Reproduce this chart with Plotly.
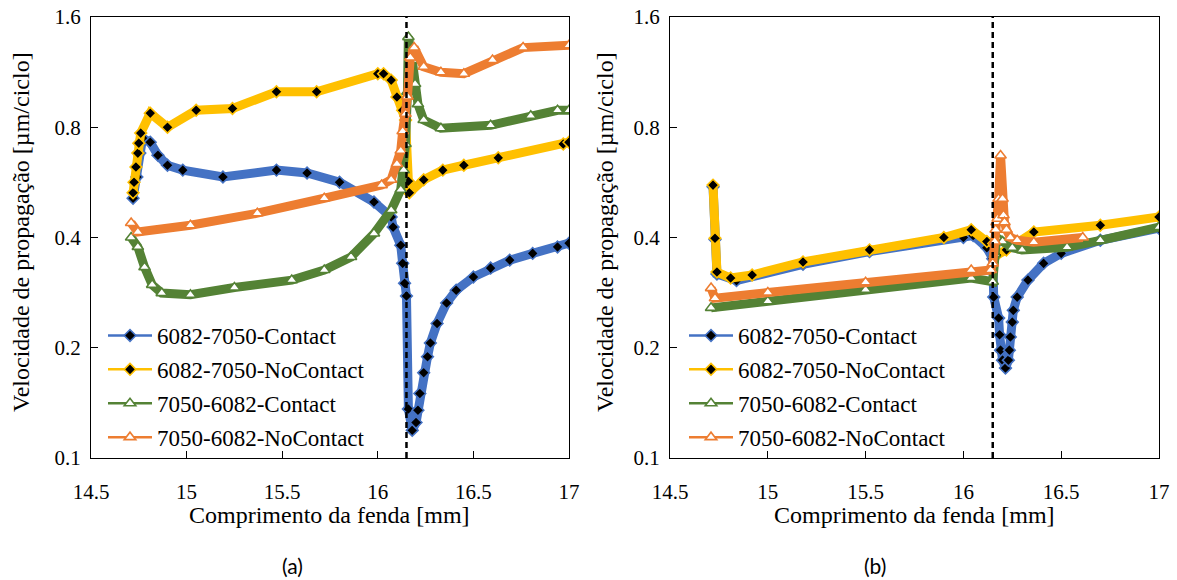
import math
import plotly.graph_objects as go

# ---------------- data ----------------
# (a) left panel
a_c1_x = [14.72, 14.74, 14.755, 14.77, 14.81, 14.85, 14.90, 14.98, 15.19, 15.47, 15.63, 15.80, 15.98,
          16.07, 16.08, 16.12, 16.13, 16.14, 16.15, 16.16, 16.18, 16.20, 16.21, 16.22, 16.24, 16.26,
          16.275, 16.31, 16.36, 16.41, 16.50, 16.59, 16.69, 16.81, 16.94, 17.0]
a_c1_y = [0.512, 0.585, 0.68, 0.747, 0.728, 0.671, 0.63, 0.611, 0.585, 0.611, 0.60, 0.566, 0.50,
          0.455, 0.427, 0.381, 0.34, 0.30, 0.277, 0.136, 0.119, 0.125, 0.135, 0.150, 0.171, 0.189,
          0.206, 0.233, 0.265, 0.287, 0.312, 0.33, 0.347, 0.362, 0.377, 0.386]

a_n1_x = [14.72, 14.725, 14.735, 14.745, 14.75, 14.76, 14.81, 14.90, 15.05, 15.24, 15.47, 15.68, 16.00,
          16.03, 16.07, 16.10, 16.13, 16.145, 16.16, 16.165, 16.24, 16.34, 16.45, 16.63, 16.97, 17.0]
a_n1_y = [0.53, 0.566, 0.623, 0.68, 0.724, 0.771, 0.874, 0.80, 0.89, 0.90, 1.0, 1.0, 1.12,
          1.12, 1.076, 0.967, 0.89, 0.837, 0.57, 0.53, 0.575, 0.611, 0.63, 0.66, 0.72, 0.728]

a_c2_x = [14.71, 14.745, 14.78, 14.82, 14.87, 15.02, 15.25, 15.55, 15.72, 15.86, 15.98, 16.07, 16.12,
          16.135, 16.145, 16.155, 16.16, 16.18, 16.195, 16.21, 16.24, 16.33, 16.59, 16.80, 16.94, 17.0]
a_c2_y = [0.40, 0.377, 0.332, 0.297, 0.282, 0.279, 0.292, 0.306, 0.326, 0.354, 0.41, 0.475, 0.54,
          0.611, 0.72, 1.0, 1.41, 1.22, 1.05, 0.925, 0.837, 0.795, 0.81, 0.86, 0.89, 0.89]

a_n2_x = [14.71, 14.745, 15.02, 15.37, 15.72, 16.02, 16.07, 16.10, 16.12, 16.13, 16.145, 16.155,
          16.17, 16.19, 16.24, 16.33, 16.45, 16.60, 16.76, 17.0]
a_n2_y = [0.438, 0.414, 0.432, 0.466, 0.512, 0.556, 0.575, 0.635, 0.69, 0.78, 0.87, 0.97,
          1.24, 1.32, 1.17, 1.13, 1.12, 1.22, 1.32, 1.34]

# (b) right panel
b_c1_x = [14.72, 14.73, 14.74, 14.84, 15.18, 15.52, 16.00, 16.05, 16.12, 16.15, 16.155, 16.18, 16.185,
          16.19, 16.20, 16.215, 16.23, 16.235, 16.24, 16.25, 16.255, 16.275, 16.33, 16.41, 16.50,
          16.70, 17.0]
b_c1_y = [0.55, 0.395, 0.318, 0.305, 0.338, 0.366, 0.40, 0.405, 0.375, 0.35, 0.275, 0.241, 0.217,
          0.197, 0.185, 0.176, 0.185, 0.197, 0.214, 0.235, 0.253, 0.275, 0.306, 0.34, 0.362,
          0.393, 0.424]

b_n1_x = [14.72, 14.73, 14.74, 14.81, 14.92, 15.18, 15.52, 15.90, 16.04, 16.12, 16.155, 16.17,
          16.22, 16.36, 16.70, 17.0]
b_n1_y = [0.556, 0.398, 0.322, 0.31, 0.316, 0.343, 0.37, 0.40, 0.42, 0.39, 0.385, 0.358,
          0.37, 0.414, 0.432, 0.455]

b_c2_x = [14.71, 15.0, 15.5, 16.04, 16.15, 16.16, 16.17, 16.20, 16.25, 16.30, 16.53, 16.70, 17.0]
b_c2_y = [0.257, 0.268, 0.288, 0.31, 0.303, 0.36, 0.40, 0.39, 0.375, 0.37, 0.376, 0.393, 0.427]

b_n2_x = [14.71, 14.73, 15.0, 15.5, 16.04, 16.14, 16.15, 16.16, 16.165, 16.17, 16.175, 16.18, 16.19,
          16.20, 16.205, 16.21, 16.22, 16.24, 16.275, 16.36, 16.61]
b_n2_y = [0.291, 0.273, 0.283, 0.302, 0.326, 0.326, 0.34, 0.39, 0.42, 0.44, 0.45, 0.51, 0.67,
          0.51, 0.46, 0.44, 0.42, 0.40, 0.393, 0.388, 0.40]

series_names = ["6082-7050-Contact", "6082-7050-NoContact", "7050-6082-Contact", "7050-6082-NoContact"]
series_colors = ["#4472C4", "#FFC000", "#548235", "#ED7D31"]
interface_x = 16.15

x_tickvals = [14.5, 15, 15.5, 16, 16.5, 17]
x_ticktext = ["14.5", "15", "15.5", "16", "16.5", "17"]
y_tickvals = [0.1, 0.2, 0.4, 0.8, 1.6]
y_ticktext = ["0.1", "0.2", "0.4", "0.8", "1.6"]

# ---------------- figure ----------------
W, H = 1177, 580
SERIF = "Liberation Serif"

def marker_for(i):
    if i < 2:
        return dict(symbol="diamond", size=9, color="black",
                    line=dict(color=series_colors[i], width=1.6))
    return dict(symbol="triangle-up", size=10, color="white",
                line=dict(color=series_colors[i], width=1.6))

def px_x(p):
    return p / W

def px_y(p):
    return 1 - p / H

fig = go.Figure()

panels = [
    ("x", "y", "legend", [(a_c1_x, a_c1_y), (a_n1_x, a_n1_y), (a_c2_x, a_c2_y), (a_n2_x, a_n2_y)]),
    ("x2", "y2", "legend2", [(b_c1_x, b_c1_y), (b_n1_x, b_n1_y), (b_c2_x, b_c2_y), (b_n2_x, b_n2_y)]),
]

for xa, ya, lg, data in panels:
    for i, (xs, ys) in enumerate(data):
        fig.add_trace(go.Scatter(
            x=xs, y=ys, xaxis=xa, yaxis=ya, mode="lines+markers",
            line=dict(color=series_colors[i], width=9),
            marker=marker_for(i), showlegend=False, hoverinfo="skip",
            name=series_names[i]))
    # legend entries (thin line + marker, like the reference legend keys)
    for i in range(4):
        fig.add_trace(go.Scatter(
            x=[None], y=[None], xaxis=xa, yaxis=ya, mode="lines+markers",
            name=series_names[i], legend=lg, legendgroup=f"{lg}{i}",
            line=dict(color=series_colors[i], width=2.5),
            marker=marker_for(i)))

axis_common = dict(showline=True, linecolor="black", linewidth=1.3, mirror=True,
                   ticks="inside", ticklen=7, tickcolor="black", tickwidth=1.3,
                   showgrid=False, zeroline=False,
                   tickfont=dict(family=SERIF, size=21, color="black"))

xdom1 = [px_x(91), px_x(569)]
xdom2 = [px_x(670), px_x(1159)]
ydom = [px_y(458), px_y(17)]

legend_common = dict(xanchor="left", yanchor="top", bgcolor="rgba(0,0,0,0)",
                     traceorder="grouped", tracegroupgap=1, itemwidth=44,
                     font=dict(family=SERIF, size=23, color="black"))

fig.update_layout(
    template="none",
    width=W, height=H, margin=dict(l=0, r=0, t=0, b=0),
    paper_bgcolor="white", plot_bgcolor="white",
    font=dict(family=SERIF, color="black"),
    xaxis=dict(domain=xdom1, range=[14.5, 17], tickvals=x_tickvals, ticktext=x_ticktext,
               anchor="y", ticklabelstandoff=15, **axis_common),
    yaxis=dict(domain=ydom, type="log", range=[-1, math.log10(1.6)], tickvals=y_tickvals,
               ticktext=y_ticktext, anchor="x", ticklabelstandoff=5, **axis_common),
    xaxis2=dict(domain=xdom2, range=[14.5, 17], tickvals=x_tickvals, ticktext=x_ticktext,
                anchor="y2", ticklabelstandoff=15, **axis_common),
    yaxis2=dict(domain=ydom, type="log", range=[-1, math.log10(1.6)], tickvals=y_tickvals,
                ticktext=y_ticktext, anchor="x2", ticklabelstandoff=5, **axis_common),
    legend=dict(x=px_x(103), y=px_y(314), **legend_common),
    legend2=dict(x=px_x(684), y=px_y(314), **legend_common),
    showlegend=True,
)

for xr in ("x", "x2"):
    fig.add_shape(type="line", xref=xr, yref=f"{'y' if xr == 'x' else 'y2'} domain",
                  x0=interface_x, x1=interface_x, y0=0, y1=1,
                  line=dict(color="black", width=2.5, dash="6px,4px"), layer="above")

ytitle = "Velocidade de propagação [µm/ciclo]"
xtitle = "Comprimento da fenda [mm]"
annots = [
    dict(x=px_x(21), y=px_y(232), text=ytitle, textangle=-90),
    dict(x=px_x(605), y=px_y(232), text=ytitle, textangle=-90),
    dict(x=px_x(330), y=px_y(515), text=xtitle),
    dict(x=px_x(914), y=px_y(515), text=xtitle),
]
for a in annots:
    fig.add_annotation(xref="paper", yref="paper", showarrow=False, xanchor="center",
                       yanchor="middle", font=dict(family=SERIF, size=24, color="black"), **a)

for lbl, cx in (("(a)", 292), ("(b)", 875)):
    fig.add_annotation(xref="paper", yref="paper", x=px_x(cx), y=px_y(565), text=lbl,
                       showarrow=False, xanchor="center", yanchor="middle",
                       font=dict(family="Lato", size=21, color="black"))

fig.write_html("out.html")
